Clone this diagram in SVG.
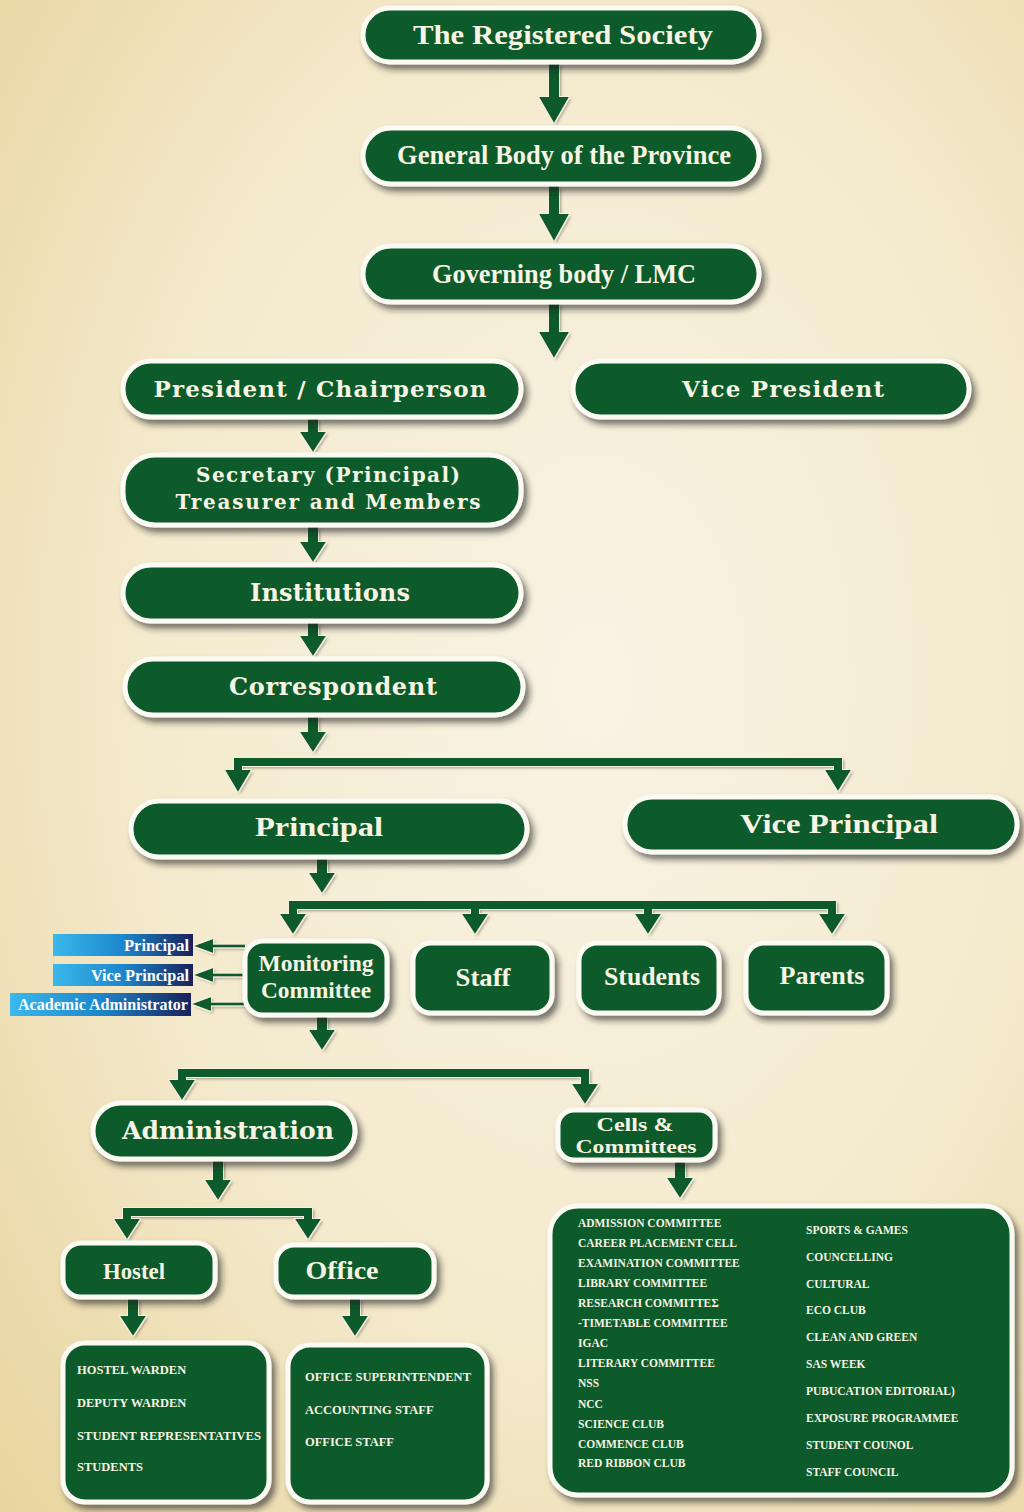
<svg xmlns="http://www.w3.org/2000/svg" width="1024" height="1512" viewBox="0 0 1024 1512">
<defs>
  <radialGradient id="bg" cx="0.58" cy="0.45" r="0.8">
    <stop offset="0" stop-color="#f8f3e4"/>
    <stop offset="0.55" stop-color="#f4eacd"/>
    <stop offset="1" stop-color="#e8d49e"/>
  </radialGradient>
  <linearGradient id="blue" x1="0" y1="0" x2="1" y2="0">
    <stop offset="0" stop-color="#3ab8ec"/>
    <stop offset="0.5" stop-color="#1d86cc"/>
    <stop offset="1" stop-color="#18215a"/>
  </linearGradient>
  <filter id="shadow" x="-10%" y="-20%" width="125%" height="150%">
    <feDropShadow dx="4" dy="5" stdDeviation="3" flood-color="#1c1c1c" flood-opacity="0.6"/>
  </filter>
  <filter id="arrowFx" filterUnits="userSpaceOnUse" x="0" y="0" width="1024" height="1512">
    <feMorphology in="SourceAlpha" operator="dilate" radius="1.2" result="d"/>
    <feFlood flood-color="#f4f1e0"/>
    <feComposite in2="d" operator="in" result="o"/>
    <feGaussianBlur in="SourceAlpha" stdDeviation="1.5" result="b"/>
    <feOffset in="b" dx="2" dy="2" result="sh"/>
    <feFlood flood-color="#000" flood-opacity="0.35"/>
    <feComposite in2="sh" operator="in" result="shc"/>
    <feMerge><feMergeNode in="shc"/><feMergeNode in="o"/><feMergeNode in="SourceGraphic"/></feMerge>
  </filter>
  <style>
    .box{fill:#0a5a2b;stroke:#fbfbf4;stroke-width:5;filter:url(#shadow)}
    .tag{fill:url(#blue)}
    .arr{fill:#0a5a2b}
    .tl{fill:#f7f4e4;font-family:"Liberation Serif","Times New Roman",serif;font-weight:bold;text-anchor:middle}
    .tw{fill:#f7f4e4;font-family:"DejaVu Serif","Liberation Serif",serif;font-weight:bold;text-anchor:middle}
    .li{fill:#f7f4e4;font-family:"Liberation Serif","Times New Roman",serif;font-weight:bold;font-size:12.5px}
    .lc{fill:#f7f4e4;font-family:"Liberation Serif","Times New Roman",serif;font-weight:bold;font-size:11.5px}
    .tg{fill:#ffffff;font-family:"Liberation Serif","Times New Roman",serif;font-weight:bold;font-size:16px;text-anchor:end}
  </style>
</defs>

<rect x="0" y="0" width="1024" height="1512" fill="url(#bg)"/>

<g id="connectors" filter="url(#arrowFx)">
  <polygon class="arr" points="549,64 559,64 559,97 569,97 554,123 539,97 549,97"/>
  <polygon class="arr" points="549,186 559,186 559,214 569,214 554,241 539,214 549,214"/>
  <polygon class="arr" points="549,304 559,304 559,332 569,332 554,358 539,332 549,332"/>
  <polygon class="arr" points="308,419 318,419 318,432 326,432 313,452 300,432 308,432"/>
  <polygon class="arr" points="308,527 318,527 318,542 326,542 313,562 300,542 308,542"/>
  <polygon class="arr" points="308,623 318,623 318,636 326,636 313,656 300,636 308,636"/>
  <polygon class="arr" points="308,717 318,717 318,732 326,732 313,752 300,732 308,732"/>
  <path class="arr" d="M234,758 H842 V766 H842 L842,770 L851,770 L838,791 L825,770 L834,770 L834,766 H242 V770 H251 L238,792 L225,770 H234 Z"/>
  <polygon class="arr" points="317,859 327,859 327,873 335,873 322,893 309,873 317,873"/>
  <path class="arr" d="M289,901 H836 V914 H845 L832,934 L819,914 H828 V909 H652 V914 H661 L648,934 L635,914 H644 V909 H479 V914 H488 L475,934 L462,914 H471 V909 H297 V914 H306 L293,934 L280,914 H289 Z"/>
  <polygon class="arr" points="317,1017 327,1017 327,1030 335,1030 322,1050 309,1030 317,1030"/>
  <path class="arr" d="M178,1069 H589 V1084 H598 L585,1104 L572,1084 H581 V1077 H186 V1080 H195 L182,1100 L169,1080 H178 Z"/>
  <polygon class="arr" points="213,1161 223,1161 223,1180 231,1180 218,1200 205,1180 213,1180"/>
  <path class="arr" d="M123,1208 H312 V1219 H321 L308,1239 L295,1219 H304 V1216 H131 V1219 H140 L127,1239 L114,1219 H123 Z"/>
  <polygon class="arr" points="675,1162 685,1162 685,1178 693,1178 680,1198 667,1178 675,1178"/>
  <polygon class="arr" points="128,1299 138,1299 138,1316 146,1316 133,1336 120,1316 128,1316"/>
  <polygon class="arr" points="350,1299 360,1299 360,1316 368,1316 355,1336 342,1316 350,1316"/>
  <path class="arr" d="M245,944.5 H213 V939 L194,946 L213,953 V947.5 H245 Z"/>
  <path class="arr" d="M245,973.5 H213 V968 L194,975 L213,982 V976.5 H245 Z"/>
  <path class="arr" d="M245,1002.5 H211 V997 L192,1004 L211,1011 V1005.5 H245 Z"/>
</g>

<g id="n-registered">
  <rect class="box" x="363" y="8" width="396" height="54" rx="27"/>
  <text class="tl" x="563" y="44" font-size="27" textLength="300" lengthAdjust="spacingAndGlyphs">The Registered Society</text>
</g>
<g id="n-general">
  <rect class="box" x="363" y="128" width="396" height="56" rx="28"/>
  <text class="tl" x="564" y="164" font-size="27" textLength="334" lengthAdjust="spacingAndGlyphs">General Body of the Province</text>
</g>
<g id="n-governing">
  <rect class="box" x="363" y="246" width="396" height="56" rx="28"/>
  <text class="tl" x="564" y="283" font-size="27" textLength="264" lengthAdjust="spacingAndGlyphs">Governing body / LMC</text>
</g>
<g id="n-president">
  <rect class="box" x="123" y="361" width="398" height="56" rx="28"/>
  <text class="tw" x="320" y="397" font-size="23" textLength="333">President / Chairperson</text>
</g>
<g id="n-vicepresident">
  <rect class="box" x="573" y="361" width="396" height="56" rx="28"/>
  <text class="tw" x="783" y="397" font-size="23" textLength="202">Vice President</text>
</g>
<g id="n-secretary">
  <rect class="box" x="123" y="455" width="398" height="70" rx="32"/>
  <text class="tw" x="328" y="482" font-size="20" textLength="264">Secretary (Principal)</text>
  <text class="tw" x="328" y="509" font-size="20" textLength="305">Treasurer and Members</text>
</g>
<g id="n-institutions">
  <rect class="box" x="123" y="565" width="398" height="56" rx="28"/>
  <text class="tw" x="330" y="601" font-size="24" textLength="160">Institutions</text>
</g>
<g id="n-correspondent">
  <rect class="box" x="125" y="659" width="398" height="56" rx="28"/>
  <text class="tw" x="333" y="695" font-size="24" textLength="208">Correspondent</text>
</g>
<g id="n-principal">
  <rect class="box" x="131" y="801" width="396" height="56" rx="28"/>
  <text class="tl" x="319" y="836" font-size="27" textLength="128" lengthAdjust="spacingAndGlyphs">Principal</text>
</g>
<g id="n-viceprincipal">
  <rect class="box" x="625" y="797" width="392" height="55" rx="27"/>
  <text class="tl" x="839" y="833" font-size="27" textLength="198" lengthAdjust="spacingAndGlyphs">Vice Principal</text>
</g>
<g id="n-monitoring">
  <rect class="box" x="245" y="941" width="142" height="74" rx="18"/>
  <text class="tl" x="316" y="971" font-size="24" textLength="115" lengthAdjust="spacingAndGlyphs">Monitoring</text>
  <text class="tl" x="316" y="998" font-size="24" textLength="110" lengthAdjust="spacingAndGlyphs">Committee</text>
</g>
<g id="n-staff">
  <rect class="box" x="413" y="943" width="139" height="70" rx="18"/>
  <text class="tl" x="483" y="986" font-size="26" textLength="55" lengthAdjust="spacingAndGlyphs">Staff</text>
</g>
<g id="n-students">
  <rect class="box" x="579" y="943" width="140" height="70" rx="18"/>
  <text class="tl" x="652" y="985" font-size="26" textLength="96" lengthAdjust="spacingAndGlyphs">Students</text>
</g>
<g id="n-parents">
  <rect class="box" x="746" y="943" width="141" height="70" rx="18"/>
  <text class="tl" x="822" y="984" font-size="26" textLength="85" lengthAdjust="spacingAndGlyphs">Parents</text>
</g>

<g id="t-principal">
  <rect class="tag" x="53" y="934" width="140" height="22"/>
  <text class="tg" x="189" y="951" textLength="65" lengthAdjust="spacingAndGlyphs">Principal</text>
</g>
<g id="t-viceprincipal">
  <rect class="tag" x="53" y="964" width="140" height="22"/>
  <text class="tg" x="189" y="981" textLength="98" lengthAdjust="spacingAndGlyphs">Vice Principal</text>
</g>
<g id="t-academic">
  <rect class="tag" x="10" y="993" width="181" height="23"/>
  <text class="tg" x="188" y="1010" textLength="170" lengthAdjust="spacingAndGlyphs">Academic Administrator</text>
</g>

<g id="n-administration">
  <rect class="box" x="93" y="1103" width="262" height="56" rx="28"/>
  <text class="tw" x="228" y="1139" font-size="25" textLength="212">Administration</text>
</g>
<g id="n-cells">
  <rect class="box" x="558" y="1110" width="157" height="50" rx="16"/>
  <text class="tl" x="635" y="1131" font-size="19.5" textLength="77" lengthAdjust="spacingAndGlyphs">Cells &amp;</text>
  <text class="tl" x="636" y="1153" font-size="19.5" textLength="121" lengthAdjust="spacingAndGlyphs">Committees</text>
</g>
<g id="n-hostel">
  <rect class="box" x="63" y="1243" width="152" height="54" rx="18"/>
  <text class="tl" x="134" y="1279" font-size="24" textLength="62" lengthAdjust="spacingAndGlyphs">Hostel</text>
</g>
<g id="n-office">
  <rect class="box" x="276" y="1245" width="158" height="52" rx="18"/>
  <text class="tl" x="342" y="1279" font-size="25" textLength="73" lengthAdjust="spacingAndGlyphs">Office</text>
</g>

<g id="n-hostel-list">
  <rect class="box" x="63" y="1343" width="206" height="159" rx="22"/>
  <text class="li" x="77" y="1374">HOSTEL WARDEN</text>
  <text class="li" x="77" y="1407">DEPUTY WARDEN</text>
  <text class="li" x="77" y="1440" textLength="184" lengthAdjust="spacingAndGlyphs">STUDENT REPRESENTATIVES</text>
  <text class="li" x="77" y="1471">STUDENTS</text>
</g>
<g id="n-office-list">
  <rect class="box" x="288" y="1345" width="199" height="157" rx="22"/>
  <text class="li" x="305" y="1381" textLength="166" lengthAdjust="spacingAndGlyphs">OFFICE SUPERINTENDENT</text>
  <text class="li" x="305" y="1414">ACCOUNTING STAFF</text>
  <text class="li" x="305" y="1446">OFFICE STAFF</text>
</g>
<g id="n-cells-list">
  <rect class="box" x="550" y="1206" width="462" height="289" rx="28"/>
  <text class="lc" x="578" y="1227">ADMISSION COMMITTEE</text>
  <text class="lc" x="578" y="1247">CAREER PLACEMENT CELL</text>
  <text class="lc" x="578" y="1267">EXAMINATION COMMITTEE</text>
  <text class="lc" x="578" y="1287">LIBRARY COMMITTEE</text>
  <text class="lc" x="578" y="1307">RESEARCH COMMITTEΣ</text>
  <text class="lc" x="578" y="1327">-TIMETABLE COMMITTEE</text>
  <text class="lc" x="578" y="1347">IGAC</text>
  <text class="lc" x="578" y="1367">LITERARY COMMITTEE</text>
  <text class="lc" x="578" y="1387">NSS</text>
  <text class="lc" x="578" y="1408">NCC</text>
  <text class="lc" x="578" y="1428">SCIENCE CLUB</text>
  <text class="lc" x="578" y="1448">COMMENCE CLUB</text>
  <text class="lc" x="578" y="1467">RED RIBBON CLUB</text>
  <text class="lc" x="806" y="1234">SPORTS &amp; GAMES</text>
  <text class="lc" x="806" y="1261">COUNCELLING</text>
  <text class="lc" x="806" y="1288">CULTURAL</text>
  <text class="lc" x="806" y="1314">ECO CLUB</text>
  <text class="lc" x="806" y="1341">CLEAN AND GREEN</text>
  <text class="lc" x="806" y="1368">SAS WEEK</text>
  <text class="lc" x="806" y="1395">PUBUCATION EDITORIAL)</text>
  <text class="lc" x="806" y="1422">EXPOSURE PROGRAMMEE</text>
  <text class="lc" x="806" y="1449">STUDENT COUNOL</text>
  <text class="lc" x="806" y="1476">STAFF COUNCIL</text>
</g>
</svg>
